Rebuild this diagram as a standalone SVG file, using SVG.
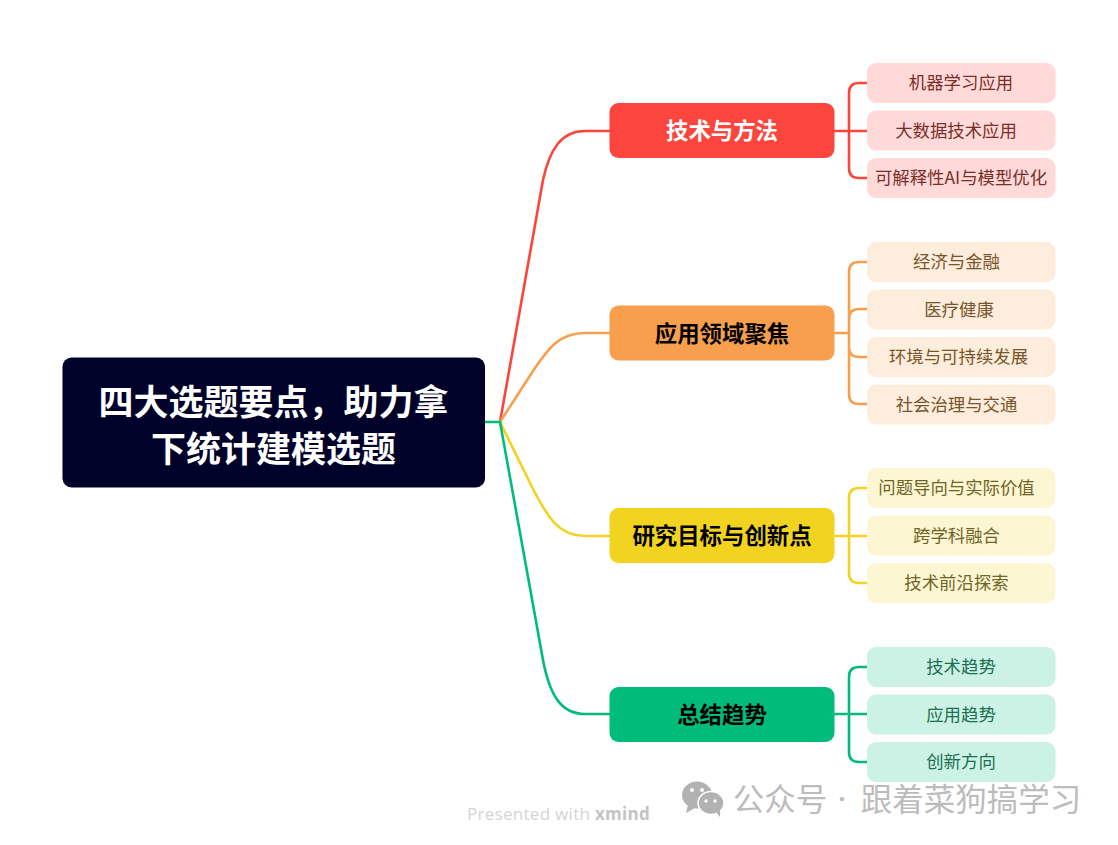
<svg xmlns="http://www.w3.org/2000/svg" width="1118" height="845" viewBox="0 0 1118 845">
<style>
text{font-family:"Noto Sans CJK SC","Liberation Sans",sans-serif;text-anchor:middle}
.c{fill:none;stroke-width:2.6;stroke-linecap:round}
.root{font-size:35px;font-weight:700;fill:#fff}
.b{font-size:22.4px;font-weight:700}
.l{font-size:17.4px}
.wm{font-size:31.500px;fill:#bcbcbc}
.red{stroke:#fc453c}.or{stroke:#f79f4c}.ye{stroke:#f2d31f}.gr{stroke:#00bc7b}
</style>
<rect width="1118" height="845" fill="#fff"/>
<g id="connectors">
<path class="c red" d="M500 422L543 180C550 148 562 131 585 131L610 131"/>
<path class="c or" d="M500 422L533 371C549 347 560 333 585 333L610 333"/>
<path class="c ye" d="M500 422L533 489C549 520 560 536 585 536L610 536"/>
<path class="c gr" d="M485 422L500 422L543 660C550 697 562 714 585 714L610 714"/>
<path class="c red" d="M834 131H867M867 83H859Q849 83 849 93V168Q849 178 859 178H867"/>
<path class="c or" d="M834 333H849M867 262H859Q849 262 849 272V394Q849 404 859 404H867M867 309H859Q849 309 849 319V347Q849 357 859 357H867"/>
<path class="c ye" d="M834 536H867M867 488H859Q849 488 849 498V573Q849 583 859 583H867"/>
<path class="c gr" d="M834 714H867M867 667H859Q849 667 849 677V752Q849 762 859 762H867"/>
</g>
<g id="root"><rect x="62.500" y="357.500" width="422.500" height="130" rx="9" fill="#000229"/>
<text class="root" x="273.500" y="415">四大选题要点，助力拿</text><text class="root" x="273.500" y="462">下统计建模选题</text></g>
<g id="b1"><rect x="609.500" y="103" width="225" height="55" rx="9" fill="#fc453c"/><text class="b" x="722" y="139" fill="#fff">技术与方法</text></g>
<g id="b2"><rect x="609.500" y="305.500" width="225" height="55" rx="9" fill="#f79f4c"/><text class="b" x="722" y="342" fill="#000">应用领域聚焦</text></g>
<g id="b3"><rect x="609.500" y="508" width="225" height="55" rx="9" fill="#f2d31f"/><text class="b" x="722" y="544" fill="#000">研究目标与创新点</text></g>
<g id="b4"><rect x="609.500" y="687" width="225" height="55" rx="9" fill="#00bc7b"/><text class="b" x="722" y="723" fill="#000">总结趋势</text></g>
<g id="l1"><rect x="867" y="63" width="188.500" height="40" rx="9" fill="#ffdad8"/><text class="l" x="961" y="89" fill="#7a2e2a">机器学习应用</text></g>
<g id="l2"><rect x="867" y="110.500" width="188.500" height="40" rx="9" fill="#ffdad8"/><text class="l" x="956" y="136.500" fill="#7a2e2a">大数据技术应用</text></g>
<g id="l3"><rect x="867" y="158" width="188.500" height="40" rx="9" fill="#ffdad8"/><text class="l" x="961" y="184" fill="#7a2e2a">可解释性AI与模型优化</text></g>
<g id="l4"><rect x="867" y="242" width="188.500" height="40" rx="9" fill="#feecdc"/><text class="l" x="956.500" y="268" fill="#76562a">经济与金融</text></g>
<g id="l5"><rect x="867" y="289.500" width="188.500" height="40" rx="9" fill="#feecdc"/><text class="l" x="959" y="315.500" fill="#76562a">医疗健康</text></g>
<g id="l6"><rect x="867" y="337" width="188.500" height="40" rx="9" fill="#feecdc"/><text class="l" x="958.500" y="363" fill="#76562a">环境与可持续发展</text></g>
<g id="l7"><rect x="867" y="384.500" width="188.500" height="40" rx="9" fill="#feecdc"/><text class="l" x="956.500" y="410.500" fill="#76562a">社会治理与交通</text></g>
<g id="l8"><rect x="867" y="468" width="188.500" height="40" rx="9" fill="#fcf6d2"/><text class="l" x="956.500" y="494" fill="#706426">问题导向与实际价值</text></g>
<g id="l9"><rect x="867" y="515.500" width="188.500" height="40" rx="9" fill="#fcf6d2"/><text class="l" x="956.500" y="541.500" fill="#706426">跨学科融合</text></g>
<g id="l10"><rect x="867" y="563" width="188.500" height="40" rx="9" fill="#fcf6d2"/><text class="l" x="956.500" y="589" fill="#706426">技术前沿探索</text></g>
<g id="l11"><rect x="867" y="647" width="188.500" height="40" rx="9" fill="#ccf2e5"/><text class="l" x="961" y="673" fill="#1d6f52">技术趋势</text></g>
<g id="l12"><rect x="867" y="694.500" width="188.500" height="40" rx="9" fill="#ccf2e5"/><text class="l" x="961" y="720.500" fill="#1d6f52">应用趋势</text></g>
<g id="l13"><rect x="867" y="742" width="188.500" height="40" rx="9" fill="#ccf2e5"/><text class="l" x="961" y="768" fill="#1d6f52">创新方向</text></g>
<g id="credit"><text x="558.500" y="820" style="font-family:'Open Sans','Liberation Sans',sans-serif;font-size:17px;letter-spacing:.3px;fill:#d4d4d4">Presented with <tspan font-weight="700" fill="#c4c4c4">xmind</tspan></text></g>
<g id="watermark">
<ellipse cx="697" cy="795" rx="15" ry="13.500" fill="#b2b2b2"/><path d="M688 805L686 813L695 808Z" fill="#b2b2b2"/>
<ellipse cx="711" cy="803" rx="13" ry="11.500" fill="#b2b2b2" stroke="#fff" stroke-width="1.500"/><path d="M716 812L720 817L720 809Z" fill="#b2b2b2"/>
<circle cx="692" cy="790" r="2" fill="#fff"/><circle cx="702" cy="790" r="2" fill="#fff"/><circle cx="706" cy="801" r="1.700" fill="#fff"/><circle cx="715" cy="801" r="1.700" fill="#fff"/>
<text class="wm" x="780" y="811">公众号</text><text class="wm" x="842" y="807" style="font-size:20px">·</text><text class="wm" x="971" y="811">跟着菜狗搞学习</text>
</g>
</svg>
